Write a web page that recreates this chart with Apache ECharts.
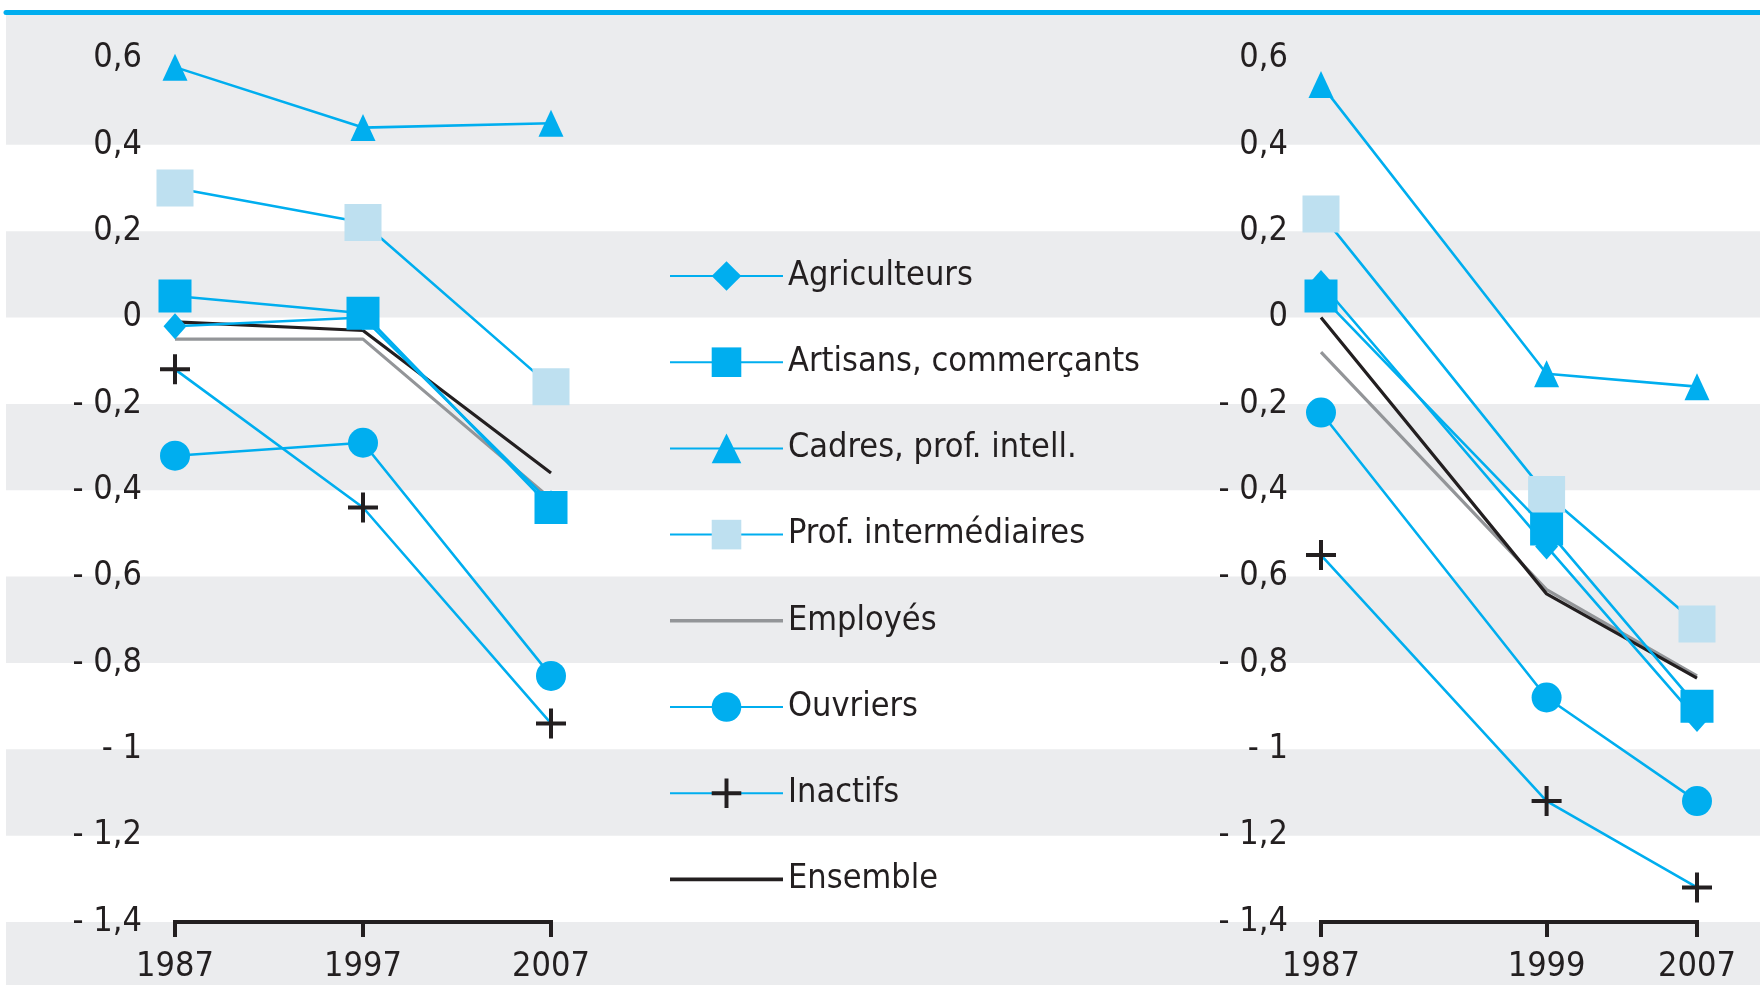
<!DOCTYPE html>
<html><head><meta charset="utf-8">
<script src="https://cdn.jsdelivr.net/npm/echarts@6/dist/echarts.min.js"></script>
<style>html,body{margin:0;padding:0;background:#fff}#c{width:1760px;height:985px}</style>
</head><body><div id="c"></div>
<script>
// ---------------- DATA ----------------
const seriesNames = ['Agriculteurs', 'Artisans, commerçants', 'Cadres, prof. intell.', 'Prof. intermédiaires', 'Employés', 'Ouvriers', 'Inactifs', 'Ensemble'];
const yearsLeft = [1987, 1997, 2007];
const yearsRight = [1987, 1999, 2007];

const leftAgriculteurs = [-0.02, 0.00, -0.43];
const leftArtisans     = [0.05, 0.01, -0.44];
const leftCadres       = [0.58, 0.44, 0.45];
const leftProfInter    = [0.30, 0.22, -0.16];
const leftEmployes     = [-0.05, -0.05, -0.42];
const leftOuvriers     = [-0.32, -0.29, -0.83];
const leftInactifs     = [-0.12, -0.44, -0.94];
const leftEnsemble     = [-0.01, -0.03, -0.36];

const rightAgriculteurs = [0.08, -0.53, -0.93];
const rightArtisans     = [0.05, -0.49, -0.90];
const rightCadres       = [0.54, -0.13, -0.16];
const rightProfInter    = [0.24, -0.41, -0.71];
const rightEmployes     = [-0.08, -0.63, -0.83];
const rightOuvriers     = [-0.22, -0.88, -1.12];
const rightInactifs     = [-0.55, -1.12, -1.32];
const rightEnsemble     = [0.00, -0.64, -0.835];

const yTickValues = [0.6, 0.4, 0.2, 0, -0.2, -0.4, -0.6, -0.8, -1, -1.2, -1.4];
const yTickLabels = ['0,6', '0,4', '0,2', '0', '- 0,2', '- 0,4', '- 0,6', '- 0,8', '- 1', '- 1,2', '- 1,4'];

const leftData = [leftAgriculteurs, leftArtisans, leftCadres, leftProfInter, leftEmployes, leftOuvriers, leftInactifs, leftEnsemble];
const rightData = [rightAgriculteurs, rightArtisans, rightCadres, rightProfInter, rightEmployes, rightOuvriers, rightInactifs, rightEnsemble];

// ---------------- FONT ----------------
function fontAvailable(name) {
  const c = document.createElement('canvas').getContext('2d');
  const t = 'Artisans, commerçants 0123456789';
  for (const g of ['monospace', 'serif']) {
    c.font = '40px ' + g; const w0 = c.measureText(t).width;
    c.font = '40px "' + name + '", ' + g; const w1 = c.measureText(t).width;
    if (Math.abs(w0 - w1) > 0.5) return true;
  }
  return false;
}
const candidates = ['Liberation Sans Narrow', 'DejaVu Sans Condensed', 'Roboto Condensed', 'Roboto', 'Liberation Sans'];
let FONT = 'sans-serif';
for (const f of candidates) { if (fontAvailable(f)) { FONT = f; break; } }
const mc = document.createElement('canvas').getContext('2d');
mc.font = '100px "' + FONT + '"';
const FS = Math.min(44, Math.round(347 / mc.measureText('Artisans, commerçants').width * 100));

// ---------------- STYLE ----------------
const BLUE = '#00aeef';
const LIGHT = '#bee0f0';
const DARK = '#231f20';
const GREY = '#939598';
const BAND = '#ebecee';
const CROSS = 'path://M6.5,0h2v6.5h6.5v2h-6.5v6.5h-2v-6.5h-6.5v-2h6.5z';

const styleOf = [
  { symbol: 'diamond', size: [23, 26], line: BLUE, fill: BLUE, w: 2.6, z: 3 },
  { symbol: 'rect', size: 33, line: BLUE, fill: BLUE, w: 2.6, z: 4 },
  { symbol: 'triangle', size: [25, 27], line: BLUE, fill: BLUE, w: 2.6, z: 3 },
  { symbol: 'rect', size: 37, line: BLUE, fill: LIGHT, w: 2.6, z: 3 },
  { symbol: 'none', size: 0, line: GREY, fill: GREY, w: 3.2, z: 2 },
  { symbol: 'circle', size: 30, line: BLUE, fill: BLUE, w: 2.6, z: 3 },
  { symbol: CROSS, size: 30, line: BLUE, fill: DARK, w: 2.6, z: 3 },
  { symbol: 'none', size: 0, line: DARK, fill: DARK, w: 3.2, z: 2 }
];

// layout
const TOP_Y = 58.5, BOT_Y = 922;
const Y_MAX = 0.6, Y_MIN = -1.4;
const PX = (BOT_Y - TOP_Y) / (Y_MAX - Y_MIN);
const BG_TOP = 12.5, H = 985;
const BG_MAX = Y_MAX + (TOP_Y - BG_TOP) / PX;
const BG_MIN = Y_MIN - (H - BOT_Y) / PX;

// gray bands (alternating between ticks, plus the edges)
const asc = yTickValues.slice().sort((a, b) => a - b);
const bands = [[BG_MIN, asc[0]]];
for (let k = 1; k < asc.length - 1; k += 2) {
  bands.push([asc[k], k + 1 === asc.length - 1 ? BG_MAX : asc[k + 1]]);
}

function yLabel(v) {
  for (let i = 0; i < yTickValues.length; i++) if (Math.abs(yTickValues[i] - v) < 1e-6) return yTickLabels[i];
  return '';
}

const textBase = { fontFamily: FONT, fontSize: FS, color: DARK };

function xAxisFor(gi, years) {
  return {
    gridIndex: gi, type: 'value', min: years[0], max: years[years.length - 1], z: 5,
    axisLine: { show: true, onZero: false, lineStyle: { color: DARK, width: 4, cap: 'square' } },
    axisTick: { show: true, length: 15, lineStyle: { color: DARK, width: 4 }, customValues: years },
    axisLabel: Object.assign({ margin: 28, customValues: years, formatter: v => String(v), showMinLabel: true, showMaxLabel: true }, textBase),
    splitLine: { show: false }
  };
}
function yAxisFor(gi) {
  return {
    gridIndex: gi, type: 'value', min: Y_MIN, max: Y_MAX, interval: 0.2, z: 5,
    axisLine: { show: false }, axisTick: { show: false }, splitLine: { show: false },
    axisLabel: Object.assign({ margin: 33, formatter: yLabel, align: 'right' }, textBase)
  };
}

function buildSeries(gi, years, dataSet) {
  return seriesNames.map((name, i) => {
    const s = styleOf[i];
    return {
      name, type: 'line', xAxisIndex: gi, yAxisIndex: gi,
      data: years.map((y, j) => [y, dataSet[i][j]]),
      symbol: s.symbol, symbolSize: s.size, showSymbol: s.symbol !== 'none',
      z: s.z,
      lineStyle: { color: s.line, width: s.w },
      itemStyle: { color: s.fill, opacity: 1 },
      emphasis: { disabled: true }, silent: true, animation: false
    };
  });
}

const legendData = seriesNames.map((name, i) => {
  if (styleOf[i].symbol === 'none') return { name, icon: 'path://M0,0L100,0L100,3.2L0,3.2Z' };
  return { name };
});

const option = {
  animation: false,
  backgroundColor: '#ffffff',
  grid: [
    { left: 175, width: 376, top: TOP_Y, height: BOT_Y - TOP_Y },
    { left: 1321, width: 376, top: TOP_Y, height: BOT_Y - TOP_Y },
    { left: 6, right: 0, top: BG_TOP, bottom: 0 }
  ],
  xAxis: [
    xAxisFor(0, yearsLeft),
    xAxisFor(1, yearsRight),
    { gridIndex: 2, type: 'value', min: 0, max: 1, position: 'top', z: 6,
      axisLine: { show: true, onZero: false, lineStyle: { color: BLUE, width: 5 } },
      axisTick: { show: false }, axisLabel: { show: false }, splitLine: { show: false } }
  ],
  yAxis: [
    yAxisFor(0), yAxisFor(1),
    { gridIndex: 2, type: 'value', min: BG_MIN, max: BG_MAX, show: false, splitLine: { show: false } }
  ],
  legend: {
    orient: 'vertical', left: 669, top: 254, padding: 0,
    itemWidth: 113, itemHeight: 37, itemGap: 86.2 - 44,
    selectedMode: false,
    textStyle: Object.assign({ lineHeight: 44 }, textBase),
    data: legendData
  },
  series: [
    { type: 'line', xAxisIndex: 2, yAxisIndex: 2, data: [], silent: true, z: 0,
      markArea: { silent: true, itemStyle: { color: BAND }, label: { show: false },
        data: bands.map(b => [{ yAxis: b[0] }, { yAxis: b[1] }]) } }
  ].concat(buildSeries(0, yearsLeft, leftData), buildSeries(1, yearsRight, rightData))
};

const chart = echarts.init(document.getElementById('c'), null, { renderer: 'canvas' });
chart.setOption(option);
</script>
</body></html>
